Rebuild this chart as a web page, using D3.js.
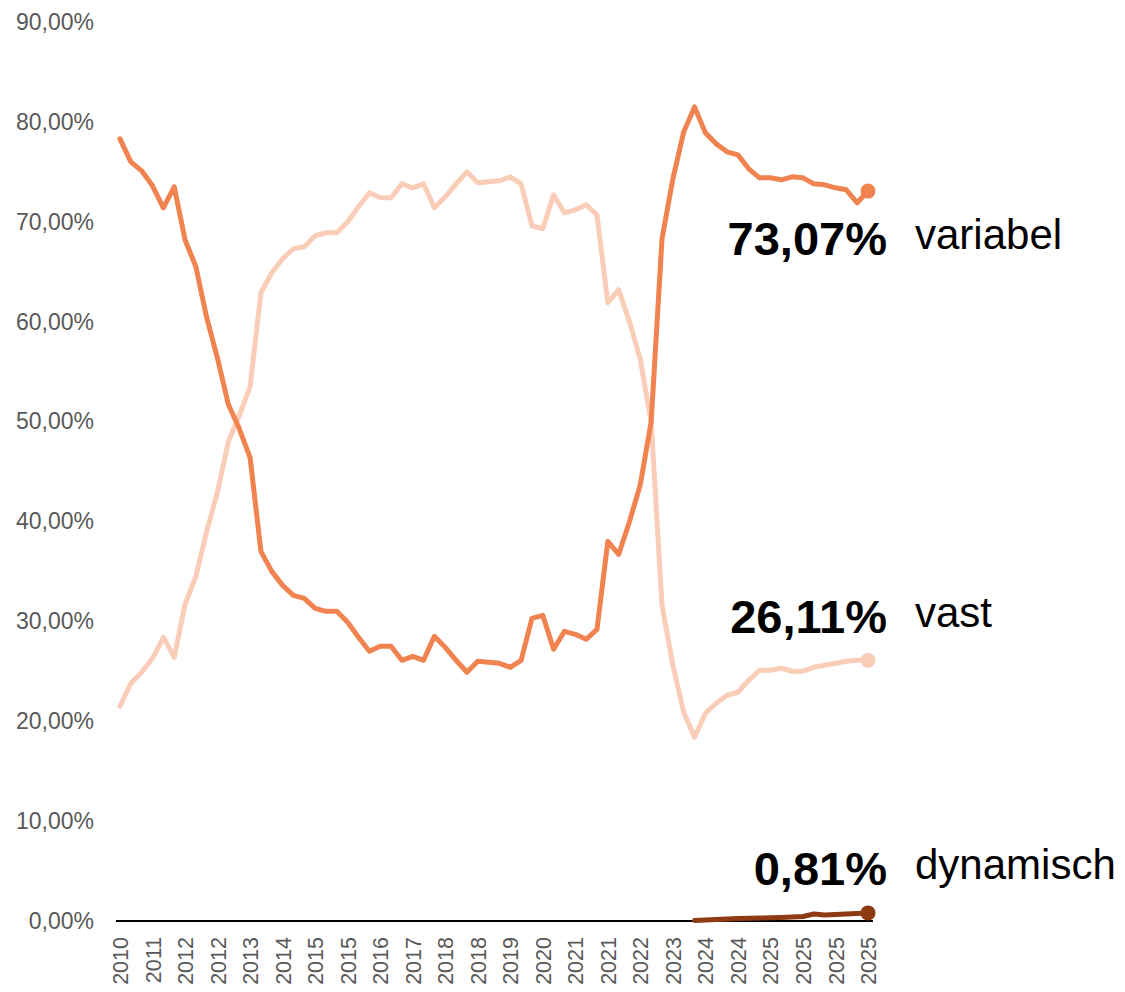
<!DOCTYPE html>
<html>
<head>
<meta charset="utf-8">
<script src="https://cdn.jsdelivr.net/npm/d3@7"></script>
<style>
  body { margin: 0; background: #fff; }
  svg { display: block; font-family: "Liberation Sans", Arial, sans-serif; }
</style>
</head>
<body>
<div id="chart"></div>
<script>
// year of each observation (70 points)
var periods = [
  "2010","2010","2010","2011","2011","2011",
  "2012","2012","2012","2012","2012","2012",
  "2013","2013","2013","2014","2014","2014",
  "2015","2015","2015","2015","2015","2015",
  "2016","2016","2016","2017","2017","2017",
  "2018","2018","2018","2018","2018","2018",
  "2019","2019","2019","2020","2020","2020",
  "2021","2021","2021","2021","2021","2021",
  "2022","2022","2022","2023","2023","2023",
  "2024","2024","2024","2024","2024","2024",
  "2025","2025","2025","2025","2025","2025","2025","2025","2025","2025"
];

var variabel = [
  78.3, 76.0, 75.1, 73.6, 71.4, 73.5, 68.2, 65.5, 60.4, 56.3,
  51.7, 49.3, 46.4, 37.0, 35.0, 33.6, 32.6, 32.3, 31.3, 31.0,
  31.0, 29.9, 28.4, 27.0, 27.5, 27.5, 26.1, 26.5, 26.1, 28.5,
  27.4, 26.1, 24.9, 26.0, 25.9, 25.8, 25.4, 26.1, 30.3, 30.6,
  27.2, 29.0, 28.7, 28.2, 29.2, 38.0, 36.7, 40.0, 43.7, 50.0,
  68.3, 74.3, 79.0, 81.5, 78.9, 77.8, 77.0, 76.7, 75.3, 74.4,
  74.4, 74.2, 74.5, 74.4, 73.8, 73.7, 73.4, 73.2, 71.9, 73.07
];

var vast = [
  21.5, 23.8, 24.9, 26.3, 28.4, 26.4, 31.7, 34.5, 39.0, 43.0,
  48.0, 50.6, 53.5, 62.9, 64.9, 66.3, 67.3, 67.5, 68.6, 68.9,
  68.9, 70.0, 71.5, 72.9, 72.4, 72.4, 73.8, 73.4, 73.8, 71.4,
  72.5, 73.8, 75.0, 73.9, 74.0, 74.1, 74.5, 73.8, 69.6, 69.3,
  72.7, 70.9, 71.2, 71.7, 70.7, 61.9, 63.2, 60.0, 56.2, 49.9,
  31.6, 25.6, 20.9, 18.4, 20.8, 21.8, 22.6, 22.9, 24.1, 25.1,
  25.1, 25.3, 25.0, 25.0, 25.4, 25.6, 25.8, 26.0, 26.1, 26.11
];

var dynamisch = [
  null, null, null, null, null, null, null, null, null, null,
  null, null, null, null, null, null, null, null, null, null,
  null, null, null, null, null, null, null, null, null, null,
  null, null, null, null, null, null, null, null, null, null,
  null, null, null, null, null, null, null, null, null, null,
  null, null, null, 0.05, 0.1, 0.15, 0.2, 0.25, 0.28, 0.3,
  0.33, 0.36, 0.4, 0.45, 0.7, 0.6, 0.65, 0.7, 0.75, 0.81
];

var yTicks = [0, 10, 20, 30, 40, 50, 60, 70, 80, 90];

var seriesNames = ["vast", "variabel", "dynamisch"];
var seriesColors = ["#FACDB8", "#F08350", "#8E3A13"];
var lastLabels = ["26,11%", "73,07%", "0,81%"];

var width = 1125, height = 992;

var svg = d3.select("#chart").append("svg")
    .attr("width", width)
    .attr("height", height);

var idx = d3.range(periods.length);

var x = d3.scalePoint().domain(idx).range([120, 868]);
var y = d3.scaleLinear().domain([0, 90]).range([921, 22]);

var fmt = function(v) { return d3.format(".2f")(v).replace(".", ",") + "%"; };

// y axis (labels only)
var yAxis = svg.append("g")
    .attr("transform", "translate(94,0)")
    .call(d3.axisLeft(y).tickValues(yTicks).tickSize(0).tickPadding(0).tickFormat(fmt));
yAxis.select(".domain").remove();
yAxis.selectAll("text")
    .attr("fill", "#595959")
    .style("font-size", "23px")
    .style("font-family", "'Liberation Sans', Arial, sans-serif");

// x axis labels, every third point, rotated
var xAxis = svg.append("g")
    .attr("transform", "translate(0,921)")
    .call(d3.axisBottom(x)
        .tickValues(idx.filter(function(i) { return i % 3 === 0; }))
        .tickSize(0)
        .tickFormat(function(i) { return periods[i]; }));
xAxis.select(".domain").remove();
xAxis.selectAll("text")
    .attr("fill", "#595959")
    .style("font-size", "21.5px")
    .style("font-family", "'Liberation Sans', Arial, sans-serif")
    .attr("text-anchor", "end")
    .attr("transform", "rotate(-90)")
    .attr("x", -16)
    .attr("y", 0)
    .attr("dy", "0.35em");

var line = d3.line()
    .defined(function(d) { return d != null; })
    .x(function(d, i) { return x(i); })
    .y(function(d) { return y(d); });

var allSeries = [vast, variabel, dynamisch];

// vast + variabel lines
[0, 1].forEach(function(k) {
    svg.append("path")
        .datum(allSeries[k])
        .attr("fill", "none")
        .attr("stroke", seriesColors[k])
        .attr("stroke-width", 5)
        .attr("stroke-linejoin", "round")
        .attr("stroke-linecap", "round")
        .attr("d", line);
});

// zero line
svg.append("line")
    .attr("x1", 116).attr("x2", 873)
    .attr("y1", y(0)).attr("y2", y(0))
    .attr("stroke", "#000")
    .attr("stroke-width", 1.8);

svg.append("path")
    .datum(dynamisch)
    .attr("fill", "none")
    .attr("stroke", seriesColors[2])
    .attr("stroke-width", 5)
    .attr("stroke-linejoin", "round")
    .attr("stroke-linecap", "round")
    .attr("d", line);

// end dots and labels
var last = periods.length - 1;
var labelOffset = [-27, 64, -28];
allSeries.forEach(function(s, k) {
    var v = s[last];
    svg.append("circle")
        .attr("cx", x(last))
        .attr("cy", y(v))
        .attr("r", 7.5)
        .attr("fill", seriesColors[k]);
    svg.append("text")
        .attr("x", 887)
        .attr("y", y(v) + labelOffset[k])
        .attr("text-anchor", "end")
        .style("font-size", "47px")
        .style("font-weight", "bold")
        .attr("fill", "#000")
        .text(lastLabels[k]);
    svg.append("text")
        .attr("x", 915)
        .attr("y", y(v) + labelOffset[k] - 6)
        .style("font-size", "42px")
        .attr("fill", "#000")
        .text(seriesNames[k]);
});
</script>
</body>
</html>
